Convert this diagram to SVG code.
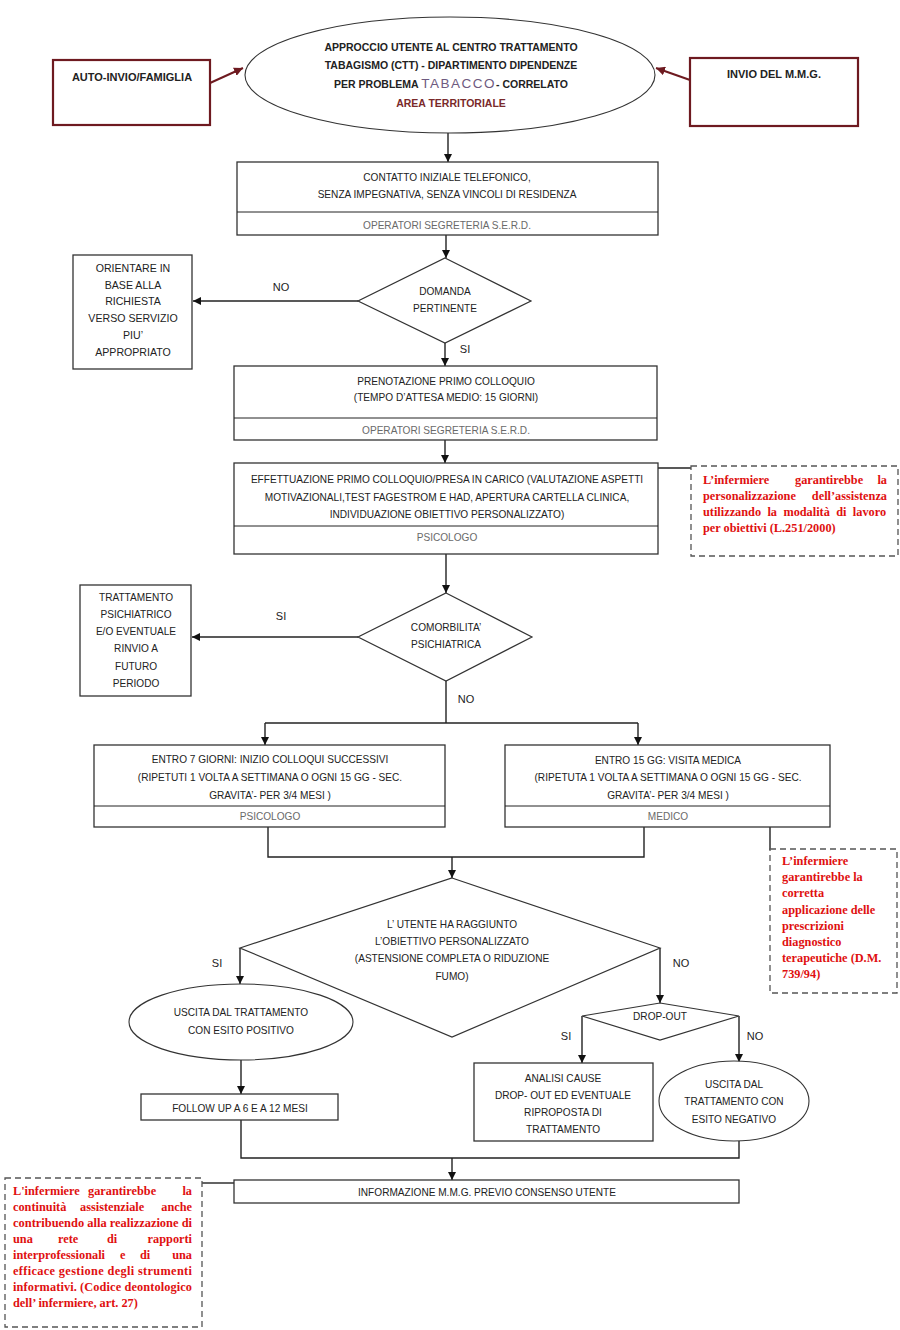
<svg xmlns="http://www.w3.org/2000/svg" width="900" height="1330" viewBox="0 0 900 1330" xml:space="preserve">
<defs>
<marker id="ah" viewBox="0 0 10 10" refX="10" refY="5" markerWidth="8" markerHeight="8" markerUnits="userSpaceOnUse" orient="auto"><path d="M0,0 L10,5 L0,10 z" fill="#111"/></marker>
<marker id="ahr" viewBox="0 0 10 10" refX="10" refY="5" markerWidth="9" markerHeight="9" markerUnits="userSpaceOnUse" orient="auto"><path d="M0,0 L10,5 L0,10 z" fill="#6e1a20"/></marker>
<style>
.box{fill:#fff;stroke:#333;stroke-width:1.3}
.rbox{fill:#fff;stroke:#6e1a20;stroke-width:2.2}
.dbox{fill:#fff;stroke:#555;stroke-width:1.3;stroke-dasharray:6,4}
.ln{fill:none;stroke:#222;stroke-width:1.4}
.arr{fill:none;stroke:#222;stroke-width:1.4;marker-end:url(#ah)}
.rarr{fill:none;stroke:#6e1a20;stroke-width:2;marker-end:url(#ahr)}
.t{font-family:"Liberation Sans",Arial,sans-serif;font-size:10.1px;fill:#222;text-anchor:middle}
.b{font-weight:bold}
.g{fill:#6a6a6a}
.lab{font-family:"Liberation Sans",Arial,sans-serif;font-size:11px;fill:#222;text-anchor:middle}
.r{font-family:"Liberation Serif","Times New Roman",serif;font-size:12.3px;font-weight:bold;fill:#e01010}
.e{text-anchor:end}
</style>
</defs>

<g id="connectors">
<path class="rarr" d="M210,83 L243,68"/>
<path class="rarr" d="M690,80 L656,68"/>
<path class="arr" d="M448,133 L448,162"/>
<path class="arr" d="M446,235 L446,258"/>
<path class="arr" d="M358,301 L193,301"/>
<path class="arr" d="M445,343 L445,366"/>
<path class="arr" d="M445,440 L445,463"/>
<path class="ln" d="M658,468 L691,468"/>
<path class="arr" d="M446,554 L446,593"/>
<path class="arr" d="M358,637 L192,637"/>
<path class="ln" d="M446,681 L446,723"/>
<path class="ln" d="M265,723 L638,723"/>
<path class="arr" d="M265,723 L265,745"/>
<path class="arr" d="M638,723 L638,745"/>
<path class="ln" d="M268,827 L268,857 L644,857 L644,827"/>
<path class="arr" d="M452,857 L452,878"/>
<path class="ln" d="M770,827 L770,850"/>
<path class="arr" d="M240,948 L240,984"/>
<path class="arr" d="M660,948 L660,1003"/>
<path class="arr" d="M582,1016 L582,1063"/>
<path class="arr" d="M739,1016 L739,1062"/>
<path class="arr" d="M241,1060 L241,1094"/>
<path class="ln" d="M241,1120 L241,1158 L739,1158 L739,1141"/>
<path class="arr" d="M452,1158 L452,1180"/>
<path class="ln" d="M234,1183 L202,1183"/>
</g>

<g id="n-start">
<ellipse cx="450" cy="75" rx="205" ry="58" fill="#fff" stroke="#333" stroke-width="1.1"/>
<text class="t b" x="451" y="51" style="font-size:10.5px">APPROCCIO  UTENTE AL CENTRO TRATTAMENTO</text>
<text class="t b" x="451" y="69" style="font-size:10.5px">TABAGISMO (CTT) - DIPARTIMENTO DIPENDENZE</text>
<text class="t b" x="451" y="88" style="font-size:10.5px">PER PROBLEMA <tspan style="font-weight:normal;font-size:13.5px;letter-spacing:1.5px;fill:#6e5a80">TABACCO</tspan>- CORRELATO</text>
<text class="t b" x="451" y="107" style="font-size:10.5px;fill:#7a2a2a">AREA TERRITORIALE</text>
</g>

<g id="n-auto">
<rect class="rbox" x="53" y="60" width="157" height="65"/>
<text class="t b" x="132" y="81" style="font-size:11px">AUTO-INVIO/FAMIGLIA</text>
</g>

<g id="n-mmg">
<rect class="rbox" x="690" y="58" width="168" height="68"/>
<text class="t b" x="774" y="78" style="font-size:11px">INVIO DEL M.M.G.</text>
</g>

<g id="n-contatto">
<rect class="box" x="237" y="162" width="421" height="73"/>
<line class="ln" x1="237" y1="212" x2="658" y2="212" style="stroke-width:1"/>
<text class="t" x="447" y="181">CONTATTO INIZIALE TELEFONICO,</text>
<text class="t" x="447" y="198">SENZA IMPEGNATIVA, SENZA VINCOLI DI RESIDENZA</text>
<text class="t g" x="447" y="229">OPERATORI SEGRETERIA S.E.R.D.</text>
</g>

<g id="n-domanda">
<polygon points="445,258 531,301 445,343 358,301" fill="#fff" stroke="#333" stroke-width="1.2"/>
<text class="t" x="445" y="295">DOMANDA</text>
<text class="t" x="445" y="312">PERTINENTE</text>
</g>

<g id="n-orientare">
<rect class="box" x="73" y="255" width="119" height="114"/>
<text class="t" x="133" y="272" style="font-size:10.6px">ORIENTARE IN</text>
<text class="t" x="133" y="289" style="font-size:10.6px">BASE ALLA</text>
<text class="t" x="133" y="305" style="font-size:10.6px">RICHIESTA</text>
<text class="t" x="133" y="322" style="font-size:10.6px">VERSO  SERVIZIO</text>
<text class="t" x="133" y="339" style="font-size:10.6px">PIU’</text>
<text class="t" x="133" y="356" style="font-size:10.6px">APPROPRIATO</text>
</g>

<g id="lbl1">
<text class="lab" x="281" y="291">NO</text>
<text class="lab" x="465" y="353">SI</text>
</g>

<g id="n-prenotazione">
<rect class="box" x="234" y="366" width="423" height="74"/>
<line class="ln" x1="234" y1="418" x2="657" y2="418" style="stroke-width:1"/>
<text class="t" x="446" y="385">PRENOTAZIONE PRIMO COLLOQUIO</text>
<text class="t" x="446" y="401">(TEMPO D’ATTESA MEDIO: 15 GIORNI)</text>
<text class="t g" x="446" y="434">OPERATORI SEGRETERIA S.E.R.D.</text>
</g>

<g id="n-effettuazione">
<rect class="box" x="234" y="463" width="424" height="91"/>
<line class="ln" x1="234" y1="526" x2="658" y2="526" style="stroke-width:1"/>
<text class="t" x="447" y="483">EFFETTUAZIONE PRIMO COLLOQUIO/PRESA IN CARICO (VALUTAZIONE ASPETTI</text>
<text class="t" x="447" y="501">MOTIVAZIONALI,TEST FAGESTROM E HAD, APERTURA CARTELLA CLINICA,</text>
<text class="t" x="447" y="518">INDIVIDUAZIONE OBIETTIVO PERSONALIZZATO)</text>
<text class="t g" x="447" y="541">PSICOLOGO</text>
</g>

<g id="n-note1">
<rect class="dbox" x="691" y="466" width="207" height="90"/>
<text class="r" x="703" y="484">L’infermiere</text>
<text class="r" x="795" y="484">garantirebbe</text>
<text class="r e" x="887" y="484">la</text>
<text class="r" x="703" y="500">personalizzazione</text>
<text class="r e" x="887" y="500">dell’assistenza</text>
<text class="r" x="703" y="516" word-spacing="3.3">utilizzando la modalità di lavoro</text>
<text class="r" x="703" y="532">per obiettivi (L.251/2000)</text>
</g>

<g id="n-comorbilita">
<polygon points="446,593 532,637 446,681 358,637" fill="#fff" stroke="#333" stroke-width="1.2"/>
<text class="t" x="446" y="631">COMORBILITA’</text>
<text class="t" x="446" y="648">PSICHIATRICA</text>
</g>

<g id="n-trattamento">
<rect class="box" x="80" y="585" width="111" height="111"/>
<text class="t" x="136" y="601">TRATTAMENTO</text>
<text class="t" x="136" y="618">PSICHIATRICO</text>
<text class="t" x="136" y="635">E/O EVENTUALE</text>
<text class="t" x="136" y="652">RINVIO A</text>
<text class="t" x="136" y="670">FUTURO</text>
<text class="t" x="136" y="687">PERIODO</text>
</g>

<g id="lbl2">
<text class="lab" x="281" y="620">SI</text>
<text class="lab" x="466" y="703">NO</text>
</g>

<g id="n-entro7">
<rect class="box" x="94" y="745" width="351" height="82"/>
<line class="ln" x1="94" y1="806" x2="445" y2="806" style="stroke-width:1"/>
<text class="t" x="270" y="763">ENTRO 7 GIORNI: INIZIO COLLOQUI SUCCESSIVI</text>
<text class="t" x="270" y="781">(RIPETUTI 1 VOLTA A SETTIMANA O OGNI 15 GG - SEC.</text>
<text class="t" x="270" y="799">GRAVITA’- PER 3/4 MESI )</text>
<text class="t g" x="270" y="820">PSICOLOGO</text>
</g>

<g id="n-entro15">
<rect class="box" x="505" y="745" width="325" height="82"/>
<line class="ln" x1="505" y1="806" x2="830" y2="806" style="stroke-width:1"/>
<text class="t" x="668" y="764">ENTRO 15 GG: VISITA MEDICA</text>
<text class="t" x="668" y="781">(RIPETUTA 1 VOLTA A SETTIMANA O OGNI 15 GG - SEC.</text>
<text class="t" x="668" y="799">GRAVITA’-  PER 3/4 MESI )</text>
<text class="t g" x="668" y="820">MEDICO</text>
</g>

<g id="n-note2">
<rect class="dbox" x="770" y="849" width="127" height="144"/>
<text class="r" x="782" y="865">L’infermiere</text>
<text class="r" x="782" y="881">garantirebbe  la</text>
<text class="r" x="782" y="897">corretta</text>
<text class="r" x="782" y="914">applicazione delle</text>
<text class="r" x="782" y="930">prescrizioni</text>
<text class="r" x="782" y="946">diagnostico</text>
<text class="r" x="782" y="962">terapeutiche (D.M.</text>
<text class="r" x="782" y="978">739/94)</text>
</g>

<g id="n-obiettivo">
<polygon points="452,878 660,948 452,1037 240,948" fill="#fff" stroke="#333" stroke-width="1.2"/>
<text class="t" x="452" y="928">L’ UTENTE HA RAGGIUNTO</text>
<text class="t" x="452" y="945">L’OBIETTIVO PERSONALIZZATO</text>
<text class="t" x="452" y="962">(ASTENSIONE COMPLETA O RIDUZIONE</text>
<text class="t" x="452" y="980">FUMO)</text>
</g>

<g id="lbl3">
<text class="lab" x="217" y="967">SI</text>
<text class="lab" x="681" y="967">NO</text>
</g>

<g id="n-positivo">
<ellipse cx="241" cy="1022" rx="112" ry="38" fill="#fff" stroke="#333" stroke-width="1.1"/>
<text class="t" x="241" y="1016">USCITA DAL TRATTAMENTO</text>
<text class="t" x="241" y="1034">CON ESITO POSITIVO</text>
</g>

<g id="n-followup">
<rect class="box" x="141" y="1094" width="197" height="26"/>
<text class="t" x="240" y="1112">FOLLOW UP A 6 E A 12 MESI</text>
</g>

<g id="n-dropout">
<polygon points="660,1003 739,1016 660,1040 582,1016" fill="#fff" stroke="#333" stroke-width="1.2"/>
<text class="t" x="660" y="1020">DROP-OUT</text>
</g>

<g id="lbl4">
<text class="lab" x="566" y="1040">SI</text>
<text class="lab" x="755" y="1040">NO</text>
</g>

<g id="n-analisi">
<rect class="box" x="474" y="1063" width="179" height="78"/>
<text class="t" x="563" y="1082">ANALISI CAUSE</text>
<text class="t" x="563" y="1099">DROP- OUT ED EVENTUALE</text>
<text class="t" x="563" y="1116">RIPROPOSTA DI</text>
<text class="t" x="563" y="1133">TRATTAMENTO</text>
</g>

<g id="n-negativo">
<ellipse cx="734" cy="1101" rx="75" ry="40" fill="#fff" stroke="#333" stroke-width="1.1"/>
<text class="t" x="734" y="1088">USCITA DAL</text>
<text class="t" x="734" y="1105">TRATTAMENTO CON</text>
<text class="t" x="734" y="1123">ESITO NEGATIVO</text>
</g>

<g id="n-informazione">
<rect class="box" x="234" y="1180" width="505" height="23"/>
<text class="t" x="487" y="1196">INFORMAZIONE M.M.G. PREVIO CONSENSO UTENTE</text>
</g>

<g id="n-note3">
<rect class="dbox" x="5" y="1178" width="197" height="149"/>
<text class="r" x="13" y="1195">L'infermiere</text>
<text class="r" x="88" y="1195">garantirebbe</text>
<text class="r e" x="192" y="1195">la</text>
<text class="r" x="13" y="1211">continuità</text>
<text class="r" x="80" y="1211">assistenziale</text>
<text class="r e" x="192" y="1211">anche</text>
<text class="r" x="13" y="1227" textLength="179" lengthAdjust="spacingAndGlyphs">contribuendo alla realizzazione di</text>
<text class="r" x="13" y="1243">una</text>
<text class="r" x="58" y="1243">rete</text>
<text class="r" x="107" y="1243">di</text>
<text class="r e" x="192" y="1243">rapporti</text>
<text class="r" x="13" y="1259">interprofessionali</text>
<text class="r" x="120" y="1259">e</text>
<text class="r" x="140" y="1259">di</text>
<text class="r e" x="192" y="1259">una</text>
<text class="r" x="13" y="1275" textLength="179" lengthAdjust="spacing">efficace gestione degli strumenti</text>
<text class="r" x="13" y="1291" textLength="179" lengthAdjust="spacing">informativi. (Codice deontologico</text>
<text class="r" x="13" y="1307">dell’ infermiere, art. 27)</text>
</g>
</svg>
